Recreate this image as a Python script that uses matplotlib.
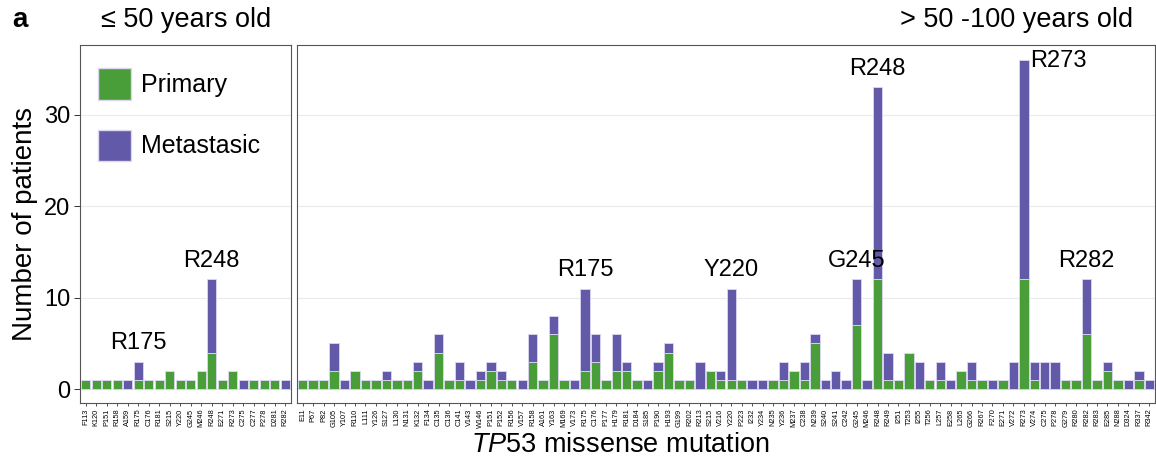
import matplotlib
matplotlib.use("Agg")
import matplotlib.pyplot as plt
import numpy as np
from matplotlib.patches import Patch

plt.rcParams['font.family'] = ['Liberation Sans', 'DejaVu Sans']
plt.rcParams['mathtext.fontset'] = 'custom'
plt.rcParams['mathtext.it'] = 'Liberation Sans:italic'
plt.rcParams['mathtext.rm'] = 'Liberation Sans'

# ---- data ----
left_labels = ["F113", "K120", "P151", "R158", "A159", "R175", "C176", "R181", "S215", "Y220",
               "G245", "M246", "R248", "E271", "R273", "C275", "C277", "P278", "D281", "R282"]
left_primary = [1, 1, 1, 1, 0, 1, 1, 1, 2, 1, 1, 2, 4, 1, 2, 0, 1, 1, 1, 0]
left_meta = [0, 0, 0, 0, 1, 2, 0, 0, 0, 0, 0, 0, 8, 0, 0, 1, 0, 0, 0, 1]

right_labels = ["E11", "P67", "P82", "G105", "Y107", "R110", "L111", "Y126", "S127", "L130",
                "N131", "K132", "F134", "C135", "C136", "C141", "V143", "W146", "P151", "P152",
                "R156", "V157", "R158", "A161", "Y163", "M169", "V173", "R175", "C176", "P177",
                "H179", "R181", "D184", "S185", "P190", "H193", "G199", "R202", "R213", "S215",
                "V216", "Y220", "P223", "I232", "Y234", "N235", "Y236", "M237", "C238", "N239",
                "S240", "S241", "C242", "G245", "M246", "R248", "R249", "I251", "T253", "I255",
                "T256", "L257", "E258", "L265", "G266", "R267", "F270", "E271", "V272", "R273",
                "V274", "C275", "P278", "G279", "R280", "R282", "R283", "E285", "N288", "D324",
                "R337", "R342"]
right_primary = [1, 1, 1, 2, 0, 2, 1, 1, 1, 1,
                 1, 2, 0, 4, 1, 1, 0, 1, 2, 1,
                 1, 0, 3, 1, 6, 1, 0, 2, 3, 1,
                 2, 2, 1, 0, 2, 4, 1, 1, 0, 2,
                 1, 1, 1, 0, 0, 1, 1, 2, 1, 5,
                 0, 0, 0, 7, 0, 12, 1, 1, 4, 0,
                 1, 1, 0, 2, 1, 1, 0, 1, 0, 12,
                 1, 0, 0, 1, 1, 6, 1, 2, 1, 0,
                 1, 0]
right_meta = [0, 0, 0, 3, 1, 0, 0, 0, 1, 0,
              0, 1, 1, 2, 0, 2, 1, 1, 1, 1,
              0, 1, 3, 0, 2, 0, 1, 9, 3, 0,
              4, 1, 0, 1, 1, 1, 0, 0, 3, 0,
              1, 10, 0, 1, 1, 0, 2, 0, 2, 1,
              1, 2, 1, 5, 1, 21, 3, 0, 0, 3,
              0, 2, 1, 0, 2, 0, 1, 0, 3, 24,
              2, 3, 3, 0, 0, 6, 0, 1, 0, 1,
              1, 1]

left_annot = ["R175", "R248"]
right_annot = ["R175", "Y220", "G245", "R248", "R282"]
right_annot_side = ["R273"]

panel_titles = ["\u2264 50 years old", "> 50 -100 years old"]
series_names = ["Primary", "Metastasic"]

GREEN = "#4a9e3a"
PURPLE = "#6259a8"
EDGE = "#dcd8f0"

fig = plt.figure(figsize=(11.56, 4.65), dpi=100)
axL = fig.add_axes([80/1156, 1-403/465, 211/1156, 358/465])
axR = fig.add_axes([297/1156, 1-403/465, 858/1156, 358/465])

def draw(ax, labels, prim, meta):
    x = np.arange(len(labels))
    prim = np.array(prim); meta = np.array(meta)
    ax.bar(x, prim, width=0.9, color=GREEN, edgecolor=EDGE, linewidth=0.6, zorder=3)
    ax.bar(x, meta, bottom=prim, width=0.9, color=PURPLE, edgecolor=EDGE, linewidth=0.6, zorder=3)
    ax.set_xticks(x)
    ax.set_xticklabels(labels, rotation=90, fontsize=5.3)
    ax.set_xlim(-0.55, len(labels) - 0.45)
    ax.set_ylim(-1.5, 37.6)
    ax.set_yticks([0, 10, 20, 30])
    ax.grid(axis='y', color='#ebebeb', linewidth=0.8, zorder=0)
    ax.set_axisbelow(True)
    for s in ax.spines.values():
        s.set_color('#555555'); s.set_linewidth(0.8)
    ax.tick_params(axis='x', length=2.5, width=0.6, color='#333333', pad=1.5)
    return prim + meta

totL = draw(axL, left_labels, left_primary, left_meta)
totR = draw(axR, right_labels, right_primary, right_meta)

axL.tick_params(axis='y', labelsize=17, length=4, width=0.7, color='#333333', pad=3)
axR.tick_params(axis='y', left=False, labelleft=False)
axL.set_ylabel("Number of patients", fontsize=20, labelpad=4)

for lab in left_annot:
    i = left_labels.index(lab)
    axL.text(i, totL[i] + 0.8, lab, ha='center', va='bottom', fontsize=17)
for lab in right_annot:
    i = right_labels.index(lab)
    axR.text(i, totR[i] + 0.8, lab, ha='center', va='bottom', fontsize=17)
for lab in right_annot_side:
    i = right_labels.index(lab)
    axR.text(i + 0.6, totR[i] - 0.2, lab, ha='left', va='center', fontsize=17)

handles = [Patch(facecolor=GREEN, edgecolor=EDGE), Patch(facecolor=PURPLE, edgecolor=EDGE)]
axL.legend(handles, series_names, loc='upper left', bbox_to_anchor=(0.015, 0.977), frameon=False,
           fontsize=18, handlelength=1.3, handleheight=1.55, labelspacing=1.2,
           handletextpad=0.4, borderaxespad=0.2)

fig.text(186/1156, 1-20/465, panel_titles[0], ha='center', va='center', fontsize=19.5)
fig.text(1133/1156, 1-20/465, panel_titles[1], ha='right', va='center', fontsize=19.5)
fig.text(12/1156, 1-20/465, "a", ha='left', va='center', fontsize=20, fontweight='bold')
fig.text(620/1156, 1-445/465, r"$\mathit{TP53}$ missense mutation", ha='center', va='center', fontsize=19.5)

fig.savefig("out.png", dpi=100)
